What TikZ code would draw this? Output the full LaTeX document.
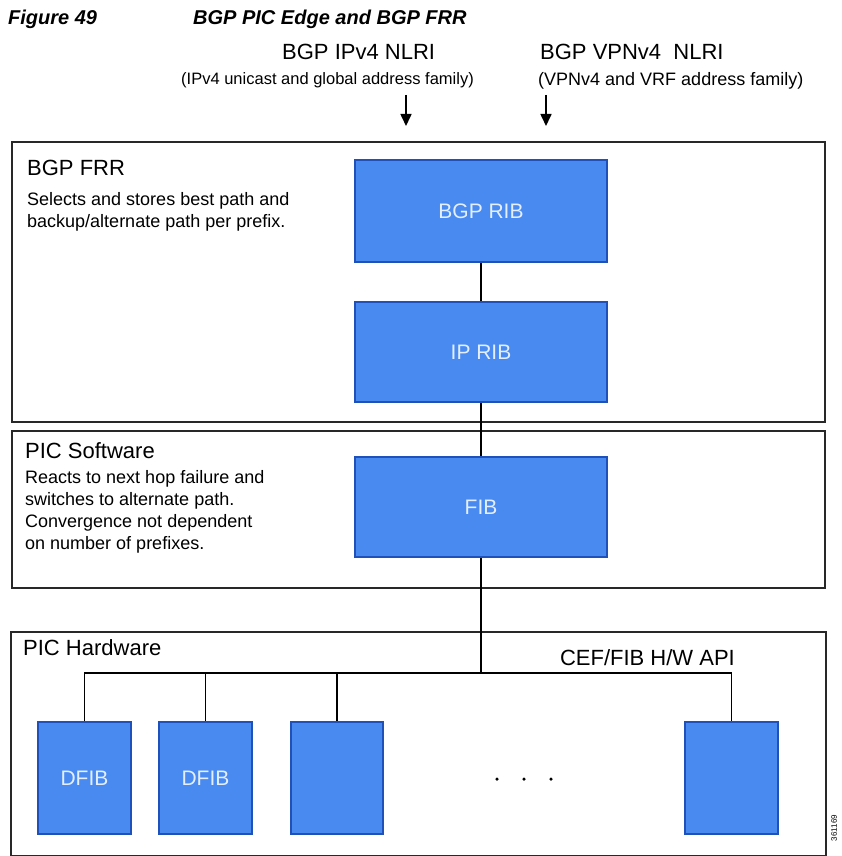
\documentclass[tikz,border=0pt]{standalone}
\usepackage{fontspec}
\setmainfont{Liberation Sans}
\usetikzlibrary{arrows.meta}
\definecolor{boxblue}{RGB}{72,138,240}
\definecolor{boxedge}{RGB}{32,80,185}
\definecolor{boxtext}{RGB}{228,238,255}
\definecolor{frameline}{RGB}{40,40,40}
\begin{document}
\begin{tikzpicture}[x=1pt,y=-1pt,
 bluebox/.style={draw=boxedge, fill=boxblue, line width=2.5pt, text=boxtext, font=\fontsize{21}{25}\selectfont, inner sep=0pt},
 frame/.style={draw=frameline, line width=1.8pt, inner sep=0pt, anchor=north west},
 heading/.style={anchor=base west, inner sep=0pt, font=\fontsize{22}{26}\selectfont},
 subhead/.style={anchor=base west, inner sep=0pt, font=\fontsize{17}{20}\selectfont},
 body/.style={anchor=north west, inner sep=0pt, align=left, font=\fontsize{18}{22}\selectfont},
 titlefont/.style={anchor=base west, inner sep=0pt, font=\fontsize{20}{24}\selectfont\bfseries\itshape},
 conn/.style={draw=black, line width=1.8pt},
 inarrow/.style={draw=black, line width=1.6pt, -{Triangle[length=12pt,width=11pt]}},
 dotmark/.style={circle, fill=black, inner sep=0pt, minimum size=3.5pt},
]
\useasboundingbox (0,0) rectangle (841,856);

% title
\node[titlefont] (fig) at (8,25) {Figure 49};
\node[titlefont] (figt) at (193,25) {BGP PIC Edge and BGP FRR};

% NLRI inputs
\node[heading] (ipv4) at (282,60) {BGP IPv4 NLRI};
\node[subhead, anchor=base east, font=\fontsize{16.5}{20}\selectfont] (ipv4s) at (474,85) {(IPv4 unicast and global address family)};
\node[heading] (vpn) at (540,60) {BGP VPNv4\ \ NLRI};
\node[subhead, font=\fontsize{18}{21}\selectfont] (vpns) at (538,86) {(VPNv4 and VRF address family)};
\coordinate (a1s) at (406,95);
\coordinate (a1e) at (406,126);
\coordinate (a2s) at (546,95);
\coordinate (a2e) at (546,126);
\draw[inarrow] (a1s) -- (a1e);
\draw[inarrow] (a2s) -- (a2e);

% frames
\node[frame, minimum width=813pt, minimum height=280pt] (frr) at (11,141) {};
\node[frame, minimum width=813pt, minimum height=157pt] (pics) at (11,430) {};
\node[frame, minimum width=815pt, minimum height=224pt] (pich) at (10,631) {};

% frame texts
\node[heading] (frrt) at (27,175) {BGP FRR};
\node[body] (frrd) at (27,189.6) {\strut Selects and stores best path and\\backup/alternate path per prefix.};
\node[heading] (picst) at (25,458) {PIC Software};
\node[body] (picsd) at (25,467.6) {\strut Reacts to next hop failure and\\switches to alternate path.\\Convergence not dependent\\on number of prefixes.};
\node[heading] (picht) at (23,655) {PIC Hardware};
\node[heading, anchor=base east] (api) at (735,665) {CEF/FIB H/W API};

% blue boxes
\node[bluebox, minimum width=252pt, minimum height=102pt] (bgprib) at (481,211) {BGP RIB};
\node[bluebox, minimum width=252pt, minimum height=100pt] (iprib) at (481,352) {IP RIB};
\node[bluebox, minimum width=252pt, minimum height=100pt] (fib) at (481,507) {FIB};
\node[bluebox, minimum width=93pt, minimum height=112pt] (dfa) at (84.5,778) {DFIB};
\node[bluebox, minimum width=93pt, minimum height=112pt] (dfb) at (205.5,778) {DFIB};
\node[bluebox, minimum width=92pt, minimum height=112pt] (dfc) at (337,778) {};
\node[bluebox, minimum width=93pt, minimum height=112pt] (dfd) at (731.5,778) {};

% connectors
\coordinate (bus) at (0,673);
\draw[conn] (bgprib.south) -- (iprib.north);
\draw[conn] (iprib.south) -- (fib.north);
\draw[conn] (fib.south) -- (fib.south |- bus);
\draw[conn] (dfa.north) -- (dfa.north |- bus) -- (dfd.north |- bus) -- (dfd.north);
\draw[conn] (dfb.north) -- (dfb.north |- bus);
\draw[conn] (dfc.north) -- (dfc.north |- bus);

% ellipsis
\node[dotmark] (d1) at (497,779) {};
\node[dotmark] (d2) at (524,779) {};
\node[dotmark] (d3) at (551,779) {};

% figure tag
\node[rotate=90, inner sep=0pt, font=\fontsize{8}{9}\selectfont] (tag) at (834,828) {361169};
\end{tikzpicture}
\end{document}
